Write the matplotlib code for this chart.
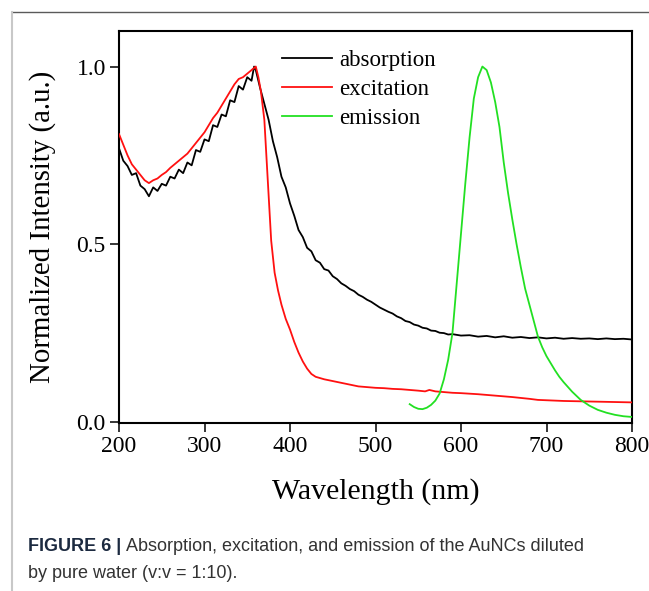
import numpy as np
import matplotlib
matplotlib.use("Agg")
import matplotlib.pyplot as plt
from matplotlib.lines import Line2D

# absorption (black)
wl_abs = [200, 205, 210, 215, 220, 225, 230, 235, 240, 245, 250, 255, 260, 265,
          270, 275, 280, 285, 290, 295, 300, 305, 310, 315, 320, 325, 330, 335,
          340, 345, 350, 355, 358, 360, 365, 370, 375, 380, 385, 390, 395, 400,
          405, 410, 415, 420, 425, 430, 435, 440, 445, 450, 455, 460, 465, 470,
          475, 480, 485, 490, 495, 500, 505, 510, 515, 520, 525, 530, 535, 540,
          545, 550, 555, 560, 565, 570, 575, 580, 585, 590, 600, 610, 620, 630,
          640, 650, 660, 670, 680, 690, 700, 710, 720, 730, 740, 750, 760, 770,
          780, 790, 800]
i_abs = [0.77, 0.735, 0.72, 0.695, 0.70, 0.665, 0.655, 0.635, 0.66, 0.65, 0.67,
         0.665, 0.69, 0.685, 0.71, 0.70, 0.73, 0.722, 0.765, 0.76, 0.795, 0.79,
         0.835, 0.83, 0.865, 0.86, 0.905, 0.90, 0.945, 0.935, 0.97, 0.96, 1.00,
         0.99, 0.94, 0.895, 0.85, 0.79, 0.745, 0.69, 0.66, 0.615, 0.58, 0.54,
         0.52, 0.49, 0.48, 0.455, 0.448, 0.43, 0.426, 0.41, 0.402, 0.39, 0.383,
         0.374, 0.368, 0.358, 0.352, 0.344, 0.338, 0.33, 0.322, 0.316, 0.31,
         0.305, 0.297, 0.292, 0.284, 0.281, 0.274, 0.271, 0.265, 0.263, 0.257,
         0.256, 0.251, 0.25, 0.246, 0.247, 0.243, 0.244, 0.24, 0.242, 0.238,
         0.241, 0.237, 0.239, 0.236, 0.238, 0.235, 0.237, 0.234, 0.236, 0.234,
         0.235, 0.233, 0.235, 0.233, 0.234, 0.232]

# excitation (red)
wl_exc = [200, 205, 210, 215, 220, 225, 230, 235, 240, 245, 250, 255, 260, 265,
          270, 275, 280, 285, 290, 295, 300, 305, 310, 315, 320, 325, 330, 335,
          340, 345, 350, 355, 360, 363, 366, 370, 374, 378, 382, 386, 390, 395,
          400, 405, 410, 415, 420, 425, 430, 440, 450, 460, 470, 480, 490, 500,
          510, 520, 530, 540, 550, 558, 563, 570, 580, 590, 600, 620, 640, 660,
          680, 690, 700, 720, 740, 760, 780, 800]
i_exc = [0.81, 0.78, 0.75, 0.725, 0.71, 0.695, 0.68, 0.672, 0.68, 0.685, 0.695,
         0.703, 0.715, 0.725, 0.735, 0.745, 0.755, 0.77, 0.785, 0.80, 0.815,
         0.835, 0.855, 0.87, 0.89, 0.91, 0.93, 0.95, 0.965, 0.97, 0.98, 0.99,
         1.00, 0.97, 0.93, 0.85, 0.68, 0.51, 0.42, 0.37, 0.33, 0.29, 0.26,
         0.225, 0.195, 0.17, 0.15, 0.135, 0.127, 0.12, 0.115, 0.11, 0.105, 0.10,
         0.098, 0.096, 0.095, 0.093, 0.092, 0.09, 0.088, 0.086, 0.09, 0.086,
         0.084, 0.082, 0.081, 0.078, 0.074, 0.07, 0.065, 0.062, 0.061, 0.059,
         0.058, 0.057, 0.056, 0.055]

# emission (green)
wl_emi = [540, 545, 550, 555, 560, 565, 570, 575, 580, 585, 590, 595, 600, 605,
          610, 615, 620, 625, 630, 635, 640, 645, 650, 655, 660, 665, 670, 675,
          680, 685, 690, 695, 700, 705, 710, 715, 720, 730, 740, 750, 760, 770,
          780, 790, 800]
i_emi = [0.05, 0.042, 0.037, 0.036, 0.04, 0.048, 0.06, 0.08, 0.12, 0.175, 0.25,
         0.39, 0.53, 0.67, 0.80, 0.91, 0.97, 1.00, 0.99, 0.955, 0.90, 0.83,
         0.73, 0.645, 0.57, 0.50, 0.435, 0.375, 0.33, 0.285, 0.24, 0.21, 0.185,
         0.165, 0.145, 0.127, 0.112, 0.085, 0.062, 0.046, 0.034, 0.026, 0.02,
         0.016, 0.014]

xticks = [200, 300, 400, 500, 600, 700, 800]
yticks = [0.0, 0.5, 1.0]

SERIF = ["Liberation Serif", "DejaVu Serif"]
SANS = ["Liberation Sans", "DejaVu Sans"]

W, H = 649, 591
fig = plt.figure(figsize=(W / 100, H / 100), dpi=100)
ax = fig.add_axes([119 / W, 1 - 423 / H, (632 - 119) / W, (423 - 31) / H])

ax.plot(wl_abs, i_abs, color="black", lw=1.3, label="absorption", zorder=3)
ax.plot(wl_exc, i_exc, color="#ff1010", lw=1.3, label="excitation", zorder=4)
ax.plot(wl_emi, i_emi, color="#22e022", lw=1.3, label="emission", zorder=5)

ax.set_xlim(200, 800)
ax.set_ylim(-0.003, 1.1)
ax.set_xticks(xticks)
ax.set_yticks(yticks)
ax.set_yticklabels([f"{v:.1f}" for v in yticks])
ax.tick_params(direction="out", length=6.5, width=1.1, pad=3,
               labelsize=17, top=False, right=False)
for lab in ax.get_xticklabels() + ax.get_yticklabels():
    lab.set_family(SERIF)
for sp in ax.spines.values():
    sp.set_linewidth(1.5)

ax.set_xlabel("Wavelength (nm)", fontsize=21.5, family=SERIF, labelpad=15)
ax.set_ylabel("Normalized Intensity (a.u.)", fontsize=20.8, family=SERIF,
              labelpad=15)

ax.legend(loc="upper left", bbox_to_anchor=(0.30, 0.975), frameon=False,
          prop=dict(family=SERIF, size=16.5), handlelength=2.2,
          handletextpad=0.3, labelspacing=0.35, borderaxespad=0)

# outer frame of the figure panel
y0 = 1 - 12 / H
x0 = 12 / W
fig.add_artist(Line2D([x0, 1], [y0, y0], color="#5a5a5a", lw=1.0,
                      transform=fig.transFigure))
fig.add_artist(Line2D([x0, x0], [y0, 0], color="#c8c8c8", lw=1.5,
                      transform=fig.transFigure))

# caption
t1 = fig.text(28 / W, 1 - 551 / H, "FIGURE 6 |", fontsize=13,
              fontweight="bold", family=SANS, color="#1c2a40",
              va="baseline")
fig.canvas.draw()
bb = t1.get_window_extent()
fig.text(bb.x1 / fig.bbox.width + 5 / W, 1 - 551 / H,
         "Absorption, excitation, and emission of the AuNCs diluted",
         fontsize=13, family=SANS, color="#333333", va="baseline")
fig.text(28 / W, 1 - 578 / H, "by pure water (v:v = 1:10).", fontsize=13,
         family=SANS, color="#333333", va="baseline")

fig.savefig("out.png", dpi=100)
